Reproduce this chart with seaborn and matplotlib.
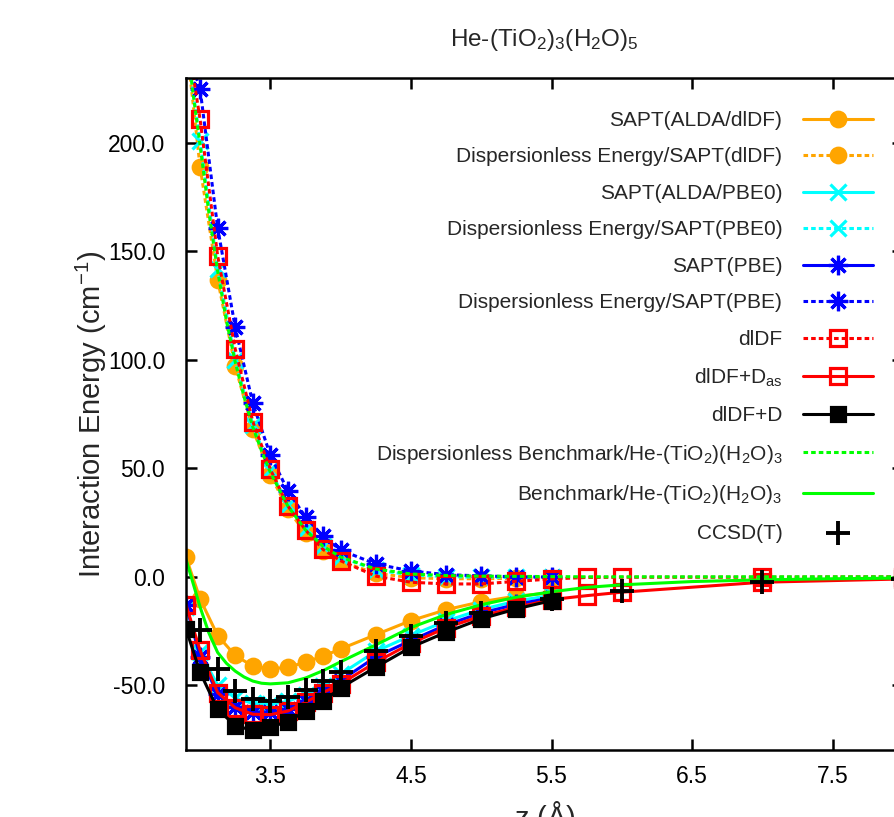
import matplotlib
matplotlib.use("Agg")
import matplotlib.pyplot as plt
import seaborn as sns
from matplotlib.ticker import FormatStrFormatter

# separations (Angstrom)
z_sapt = [2.9, 3.0, 3.125, 3.25, 3.375, 3.5, 3.625, 3.75, 3.875, 4.0,
          4.25, 4.5, 4.75, 5.0, 5.25, 5.5]
z_dldf = z_sapt + [5.75, 6.0, 7.0, 8.0]
z_bench = [2.9, 2.95, 3.0, 3.0625, 3.125, 3.1875, 3.25, 3.3125, 3.375, 3.4375,
           3.5, 3.625, 3.75, 3.875, 4.0, 4.25, 4.5, 4.75, 5.0, 5.25, 5.5,
           5.75, 6.0, 6.5, 7.0, 7.5, 8.0]
z_ccsdt = [3.0, 3.125, 3.25, 3.375, 3.5, 3.625, 3.75, 3.875, 4.0, 4.25,
           4.5, 4.75, 5.0, 5.5, 6.0, 7.0, 8.0]

# interaction energies (cm^-1)
sapt_alda_dldf = [9.0, -10.3, -27.2, -36.4, -41.3, -42.6, -41.8, -39.5, -36.7, -33.4,
                  -26.8, -20.3, -15.3, -11.6, -9.0, -7.5]
disp_sapt_dldf = [248, 189, 137, 97, 68, 47, 31, 20, 12, 7.0,
                  1.5, -0.5, -1.0, -1.0, -0.8, -0.5]
sapt_alda_pbe0 = [-14, -35, -50, -56, -58.5, -59, -57.5, -54.5, -50.5, -45,
                  -34.5, -27.2, -20.5, -15.2, -11.3, -8.6]
disp_sapt_pbe0 = [247, 201, 142, 100, 70, 49, 33, 22, 14, 9.0,
                  3.0, 0.8, 0.0, -0.3, -0.4, -0.3]
sapt_pbe = [-13, -37, -54, -60, -62.5, -62.5, -61, -57.5, -53, -48,
            -37, -29.5, -22.3, -16.8, -12.8, -9.8]
disp_sapt_pbe = [244, 225, 161, 115, 80, 56, 39.5, 27.5, 18.6, 12.2,
                 5.8, 2.6, 0.9, 0.3, -0.1, -0.2]
dldf = [252, 211, 148, 105, 71.5, 49.5, 32.5, 21.5, 12.5, 7.3,
        0.2, -2.6, -3.4, -3.4, -2.2, -1.1, -0.4, -0.3, -0.3, -0.1]
dldf_das = [-13.1, -34, -53.5, -60.5, -63.5, -63.7, -62, -58, -53.5, -49.5,
            -39.5, -30.8, -23.6, -18.2, -14.2, -10.6, -8.8, -7.2, -2.6, -1.1]
dldf_d = [-24.1, -44.1, -61.3, -68.7, -71.0, -69.4, -66.9, -62.1, -57.6, -51.3,
          -41.8, -32.6, -25.7, -19.5, -14.9, -11.1]
bench_disp = [250, 223, 199, 168, 141, 118, 99, 83, 69, 58,
              48, 32.5, 21.5, 14, 9.0, 3.5, 1.2, 0.5, 0.2, 0.1, 0.0,
              -0.1, -0.1, -0.1, -0.1, -0.1, -0.1]
bench = [8.0, -3.0, -14, -26, -35, -40, -43.6, -46.3, -48.2, -49.2,
         -49.5, -49, -46.8, -43.4, -39.3, -31.5, -23.5, -17.5, -13, -9.5, -7.0,
         -5.0, -3.8, -2.3, -1.5, -1.0, -0.7]
ccsdt = [-24.5, -42.8, -52.8, -56.6, -57.2, -55.5, -52.2, -48.2, -44, -34.5,
         -27.2, -21.5, -16.8, -10.2, -6.8, -2.6, -1.1]

x_ticks = [3.5, 4.5, 5.5, 6.5, 7.5]
y_ticks = [-50, 0, 50, 100, 150, 200]

sns.set_style("ticks")
plt.rcParams["font.family"] = ["Liberation Sans", "DejaVu Sans"]
plt.rcParams["mathtext.fontset"] = "custom"
plt.rcParams["mathtext.rm"] = "Liberation Sans"
plt.rcParams["mathtext.it"] = "Liberation Sans:italic"
plt.rcParams["mathtext.bf"] = "Liberation Sans:bold"

ORANGE, CYAN, BLUE, RED, GREEN = "#ffa500", "#00ffff", "#0000ff", "#ff0000", "#00ff00"
dash = (0, (1.5, 1.0))
star = (8, 2, 0)

fig = plt.figure(figsize=(8.94, 8.17), dpi=100)
ax = fig.add_axes([186 / 894, 67 / 817, 717 / 894, 672 / 817])

series = [
    (z_sapt, sapt_alda_dldf, "SAPT(ALDA/dlDF)", ORANGE, "o", "-", 10.5, ORANGE),
    (z_sapt, disp_sapt_dldf, "Dispersionless Energy/SAPT(dlDF)", ORANGE, "o", dash, 10.5, ORANGE),
    (z_sapt, sapt_alda_pbe0, "SAPT(ALDA/PBE0)", CYAN, "x", "-", 12, CYAN),
    (z_sapt, disp_sapt_pbe0, "Dispersionless Energy/SAPT(PBE0)", CYAN, "x", dash, 12, CYAN),
    (z_sapt, sapt_pbe, "SAPT(PBE)", BLUE, star, "-", 14, BLUE),
    (z_sapt, disp_sapt_pbe, "Dispersionless Energy/SAPT(PBE)", BLUE, star, dash, 14, BLUE),
    (z_dldf, dldf, "dlDF", RED, "s", dash, 11.5, "none"),
    (z_dldf, dldf_das, r"dlDF+D$_{\mathrm{as}}$", RED, "s", "-", 11.5, "none"),
    (z_sapt, dldf_d, "dlDF+D", "black", "s", "-", 10.5, "black"),
    (z_bench, bench_disp, r"Dispersionless Benchmark/He-(TiO$_2$)(H$_2$O)$_3$", GREEN, None, dash, 0, GREEN),
    (z_bench, bench, r"Benchmark/He-(TiO$_2$)(H$_2$O)$_3$", GREEN, None, "-", 0, GREEN),
]

for xs, ys, label, color, marker, ls, ms, mfc in series:
    sns.lineplot(x=xs, y=ys, ax=ax, label=label, color=color, marker=marker,
                 linestyle=ls, linewidth=2.2, markersize=ms,
                 markeredgecolor=color, markerfacecolor=mfc, markeredgewidth=2.3,
                 estimator=None, sort=False, legend=False)

sns.scatterplot(x=z_ccsdt, y=ccsdt, ax=ax, label="CCSD(T)", color="black",
                marker="+", s=300, linewidth=2.8, legend=False, zorder=5)

ax.set_xlim(2.9, 8.0)
ax.set_ylim(-80, 230)
ax.set_xticks(x_ticks)
ax.set_yticks(y_ticks)
ax.xaxis.set_major_formatter(FormatStrFormatter("%.1f"))
ax.yaxis.set_major_formatter(FormatStrFormatter("%.1f"))
ax.tick_params(direction="in", top=True, right=True, length=8, width=1.8,
               labelsize=16.5, colors="black")
ax.tick_params(axis="x", pad=11)
ax.tick_params(axis="y", pad=15)
for sp in ax.spines.values():
    sp.set_linewidth(1.8)
    sp.set_color("black")

ax.set_title(r"He-(TiO$_2$)$_3$(H$_2$O)$_5$", fontsize=17.5, pad=23)
ax.set_ylabel(r"Interaction Energy (cm$^{-1}$)", fontsize=21)
ax.yaxis.set_label_coords(-0.107, 0.5)
ax.set_xlabel(r"z ($\mathrm{\AA}$)", fontsize=21, labelpad=8)

handles, labels = ax.get_legend_handles_labels()
ax.legend(handles, labels, loc="upper right", bbox_to_anchor=(0.958, 0.951),
          frameon=False, markerfirst=False, fontsize=15, handlelength=3.35,
          handletextpad=1.0, labelspacing=0.84, borderpad=0, borderaxespad=0)

fig.savefig("out.png", dpi=100)
